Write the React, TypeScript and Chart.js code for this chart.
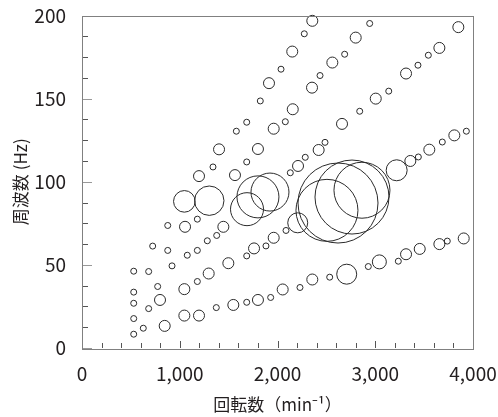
import React, { useEffect, useRef } from 'react';
import { Chart, registerables } from 'chart.js';

Chart.register(...registerables);

// ---- axis definitions ----
const xTickValues = [0, 1000, 2000, 3000, 4000];
const xTickLabels = ['0', '1,000', '2,000', '3,000', '4,000'];
const yTickValues = [0, 50, 100, 150, 200];
const yTickLabels = ['0', '50', '100', '150', '200'];
const xTitle = '回転数（min⁻¹）';
const yTitle = '周波数 (Hz)';

// ---- data: rotation speed (min^-1), frequency (Hz), bubble size ----
const order1Rpm = [529, 627, 846, 1047, 1197, 1374, 1548, 1685, 1800, 1930, 2053, 2230, 2356, 2534, 2708, 2929, 3042, 3236, 3315, 3455, 3656, 3737, 3905];
const order1Hz = [8.3, 11.9, 13.3, 19.5, 19.5, 24.3, 25.9, 27.5, 28.9, 30.4, 35.2, 36.4, 41.2, 42.6, 44.4, 49.0, 51.8, 52.2, 56.4, 59.6, 62.5, 64.3, 65.9];
const order1Size = [3, 3, 5.5, 5.5, 5.5, 3, 5.5, 3, 5.5, 3, 5.5, 3, 5.5, 3, 10, 3, 7, 3, 5.5, 5.5, 5.5, 3, 5.5];

const order2Rpm = [529, 682, 798, 1047, 1180, 1296, 1497, 1685, 1760, 1882, 1961, 2087, 2207, 2506, 2619, 2762, 2864, 3219, 3359, 3441, 3553, 3686, 3809, 3932];
const order2Hz = [17.7, 23.7, 28.9, 35.4, 40.0, 44.8, 51.0, 55.4, 59.9, 61.4, 66.3, 70.7, 75.3, 82.8, 87.2, 90.8, 94.9, 106.9, 112.5, 114.9, 119.3, 123.9, 127.9, 130.4];
const order2Size = [3, 3, 5.5, 5.5, 3, 5.5, 5.5, 3, 5.5, 3, 5.5, 3, 10, 31, 40, 37, 28, 10.5, 5.5, 3, 5.5, 3, 5.5, 3];

const order3Rpm = [529, 774, 921, 1077, 1180, 1282, 1378, 1446, 1688, 1800, 1923, 2131, 2210, 2284, 2421, 2486, 2660, 2841, 3005, 3138, 3315, 3437, 3543, 3656, 3850];
const order3Hz = [26.9, 37.0, 49.4, 55.8, 58.7, 64.5, 67.7, 72.9, 83.5, 90.9, 93.8, 105.4, 109.5, 114.7, 119.1, 123.7, 134.8, 142.4, 150.0, 154.5, 165.1, 170.1, 176.1, 180.5, 193.0];
const order3Size = [3, 3, 3, 3, 3, 3, 3, 5.5, 16.5, 21, 19, 3, 5.5, 3, 5.5, 3, 5.5, 3, 5.5, 3, 5.5, 3, 3, 5.5, 5.5];

const order4Rpm = [529, 682, 877, 1054, 1180, 1302, 1565, 1685, 1800, 1961, 2080, 2156, 2353, 2435, 2561, 2687, 2800, 2943];
const order4Hz = [33.6, 46.0, 58.7, 72.9, 77.5, 88.6, 104.0, 111.9, 119.7, 131.9, 136.1, 143.6, 156.6, 163.9, 171.7, 176.7, 186.7, 195.2];
const order4Size = [3, 3, 3, 5.5, 3, 14.7, 5.5, 3, 5.5, 5.5, 3, 5.5, 5.5, 3, 5.5, 3, 5.5, 3];

const order5Rpm = [529, 723, 877, 1047, 1197, 1340, 1402, 1579, 1685, 1824, 1913, 2036, 2151, 2274, 2356];
const order5Hz = [46.2, 61.3, 73.7, 88.2, 103.4, 108.9, 119.5, 130.4, 135.8, 148.6, 159.3, 167.7, 178.3, 189.0, 196.8];
const order5Size = [3, 3, 3, 10.8, 5.5, 3, 5.5, 3, 3, 3, 5.5, 3, 5.5, 3, 5.5];

const X_MIN = 0, X_MAX = 4000, X_MINOR = 200, X_MAJOR = 1000;
const Y_MIN = 0, Y_MAX = 200, Y_MINOR = 12.5, Y_MAJOR = 50;

const FONT = '"Noto Sans CJK JP", "Noto Sans", sans-serif';
const TEXT = '#231f20';

function series(rpm: number[], hz: number[], size: number[]) {
  return rpm.map((x, i) => ({ x, y: hz[i], r: size[i] }));
}

const framePlugin = {
  id: 'frameTicks',
  afterDraw(chart: any) {
    const { ctx, chartArea: a, scales } = chart;
    const xs = scales.x, ys = scales.y;
    ctx.save();
    ctx.lineWidth = 1;
    ctx.strokeStyle = '#555';
    for (let v = X_MIN; v <= X_MAX; v += X_MINOR) {
      const px = Math.round(xs.getPixelForValue(v)) + 0.5;
      const len = v % X_MAJOR === 0 ? 7 : 5;
      ctx.beginPath();
      ctx.moveTo(px, a.bottom);
      ctx.lineTo(px, a.bottom - len);
      ctx.stroke();
    }
    for (let v = Y_MIN; v <= Y_MAX; v += Y_MINOR) {
      const py = Math.round(ys.getPixelForValue(v)) + 0.5;
      const major = v % Y_MAJOR === 0;
      ctx.strokeStyle = major ? '#999' : '#555';
      const len = major ? 10 : 6;
      ctx.beginPath();
      ctx.moveTo(a.left, py);
      ctx.lineTo(a.left + len, py);
      ctx.stroke();
    }
    ctx.strokeStyle = '#808080';
    ctx.strokeRect(Math.round(a.left) + 0.5, Math.round(a.top) + 0.5, Math.round(a.right - a.left), Math.round(a.bottom - a.top));
    ctx.restore();
  },
};

export default function App() {
  const ref = useRef<HTMLCanvasElement | null>(null);

  useEffect(() => {
    if (!ref.current) return;
    const bubbleStyle = {
      backgroundColor: 'rgba(0,0,0,0)',
      borderColor: '#2a2a2a',
      borderWidth: 1,
      hoverBorderWidth: 1,
      clip: false as any,
    };
    const hiddenGrid = (len: number) => ({
      display: true,
      drawOnChartArea: false,
      drawTicks: true,
      tickLength: len,
      tickColor: 'rgba(0,0,0,0)',
      color: 'rgba(0,0,0,0)',
    });
    const chart = new Chart(ref.current, {
      type: 'bubble',
      data: {
        datasets: [
          { label: '1', data: series(order1Rpm, order1Hz, order1Size), ...bubbleStyle },
          { label: '2', data: series(order2Rpm, order2Hz, order2Size), ...bubbleStyle },
          { label: '3', data: series(order3Rpm, order3Hz, order3Size), ...bubbleStyle },
          { label: '4', data: series(order4Rpm, order4Hz, order4Size), ...bubbleStyle },
          { label: '5', data: series(order5Rpm, order5Hz, order5Size), ...bubbleStyle },
        ],
      },
      options: {
        animation: false,
        responsive: false,
        devicePixelRatio: 1,
        layout: { autoPadding: false, padding: { left: 0, top: 15.5, right: 25, bottom: 0 } },
        plugins: { legend: { display: false }, tooltip: { enabled: false } },
        scales: {
          x: {
            type: 'linear',
            min: X_MIN,
            max: X_MAX,
            afterBuildTicks: (s: any) => { s.ticks = xTickValues.map((value) => ({ value })); },
            afterFit: (s: any) => { s.height = 69; },
            grid: hiddenGrid(14),
            border: { display: false },
            ticks: {
              autoSkip: false,
              maxRotation: 0,
              padding: 0,
              color: TEXT,
              font: { family: FONT, size: 19 },
              callback: (_v: any, i: number) => xTickLabels[i],
            },
            title: {
              display: true,
              text: xTitle,
              color: TEXT,
              font: { family: FONT, size: 17 },
              padding: { top: 0, bottom: 2 },
            },
          },
          y: {
            type: 'linear',
            min: Y_MIN,
            max: Y_MAX,
            afterBuildTicks: (s: any) => { s.ticks = yTickValues.map((value) => ({ value })); },
            afterFit: (s: any) => { s.width = 82; },
            grid: hiddenGrid(16),
            border: { display: false },
            ticks: {
              padding: 0,
              color: TEXT,
              font: { family: FONT, size: 19 },
              callback: (_v: any, i: number) => yTickLabels[i],
            },
            title: {
              display: true,
              text: yTitle,
              color: TEXT,
              font: { family: FONT, size: 17 },
              padding: { top: 10, bottom: 0 },
            },
          },
        },
      },
      plugins: [framePlugin],
    });
    return () => chart.destroy();
  }, []);

  return (
    <div style={{ position: 'fixed', left: 0, top: 0, width: 498, height: 417, background: '#fff' }}>
      <canvas ref={ref} width={498} height={417} style={{ width: 498, height: 417, display: 'block' }} />
    </div>
  );
}
